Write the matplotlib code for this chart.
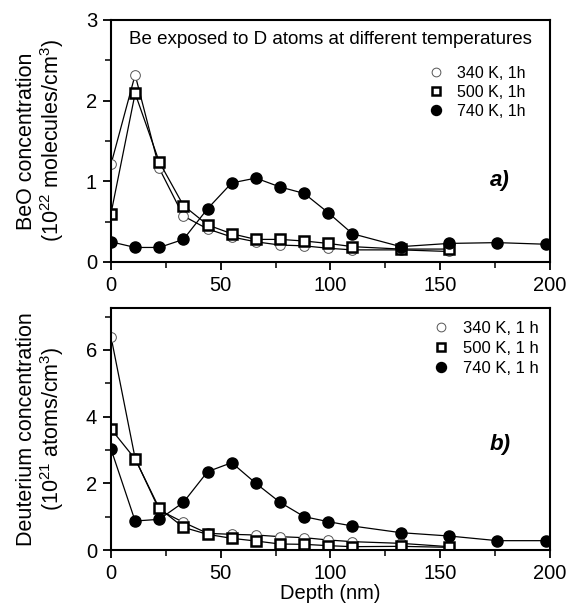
import matplotlib
matplotlib.use("Agg")
import matplotlib.pyplot as plt
from matplotlib.ticker import MultipleLocator

plt.rcParams["font.family"] = ["Liberation Sans", "DejaVu Sans"]
plt.rcParams["mathtext.fontset"] = "custom"
plt.rcParams["mathtext.rm"] = "Liberation Sans"
plt.rcParams["mathtext.it"] = "Liberation Sans:italic"
plt.rcParams["mathtext.bf"] = "Liberation Sans:bold"

# depth (nm)
depth = [0, 11, 22, 33, 44, 55, 66, 77, 88, 99, 110, 132, 154, 176, 198]
depth_short = depth[:13]

# a) BeO concentration (1e22 molecules/cm3)
beo_340 = [1.21, 2.32, 1.16, 0.57, 0.41, 0.31, 0.25, 0.21, 0.2, 0.17, 0.15, 0.15, 0.13]
beo_500 = [0.6, 2.09, 1.24, 0.70, 0.46, 0.35, 0.28, 0.28, 0.26, 0.23, 0.19, 0.16, 0.16]
beo_740 = [0.25, 0.18, 0.18, 0.28, 0.66, 0.98, 1.04, 0.93, 0.85, 0.61, 0.35, 0.19, 0.23, 0.24, 0.22]

# b) deuterium concentration (1e21 atoms/cm3)
d_340 = [6.4, 2.75, 1.2, 0.83, 0.5, 0.47, 0.45, 0.4, 0.37, 0.3, 0.25, 0.2, 0.1]
d_500 = [3.63, 2.73, 1.25, 0.68, 0.47, 0.35, 0.27, 0.18, 0.17, 0.13, 0.1, 0.11, 0.08]
d_740 = [3.03, 0.87, 0.92, 1.43, 2.35, 2.62, 2.0, 1.43, 1.0, 0.85, 0.72, 0.52, 0.42, 0.28, 0.28]

labels_a = ["340 K, 1h", "500 K, 1h", "740 K, 1h"]
labels_b = ["340 K, 1 h", "500 K, 1 h", "740 K, 1 h"]

fig = plt.figure(figsize=(5.68, 6.07), dpi=100)
ax1 = fig.add_axes([0.1954, 0.5684, 0.7729, 0.3987])
ax2 = fig.add_axes([0.1954, 0.0939, 0.7729, 0.3987])


def draw(ax, s340, s500, s740, labels, leg_pos, leg_size, leg_space):
    ax.plot(depth_short, s340, color="k", lw=0.9, marker="o", ms=7,
            mfc="white", mec="#555555", mew=0.7, label=labels[0])
    ax.plot(depth_short, s500, color="k", lw=0.9, marker="s", ms=6.5,
            mfc="white", mec="k", mew=1.8, label=labels[1])
    ax.plot(depth, s740, color="k", lw=0.9, marker="o", ms=8,
            mfc="k", mec="k", label=labels[2])
    ax.set_xlim(0, 200)
    ax.xaxis.set_major_locator(MultipleLocator(50))
    ax.xaxis.set_minor_locator(MultipleLocator(25))
    ax.tick_params(which="major", direction="out", length=6, width=1.3,
                   labelsize=14.5, pad=4)
    ax.tick_params(which="minor", direction="out", length=4, width=1.1)
    for sp in ax.spines.values():
        sp.set_linewidth(1.5)
    handles = [plt.Line2D([], [], ls="none", marker=h.get_marker(),
                          ms=h.get_markersize() * 0.9,
                          mfc=h.get_markerfacecolor(),
                          mec=h.get_markeredgecolor(),
                          mew=h.get_markeredgewidth())
               for h in ax.get_lines()]
    ax.legend(handles=handles, labels=labels, loc="upper left",
              bbox_to_anchor=leg_pos, frameon=False, fontsize=leg_size,
              handlelength=1.0, handletextpad=0.8, labelspacing=leg_space,
              borderpad=0, borderaxespad=0)


draw(ax1, beo_340, beo_500, beo_740, labels_a, (0.722, 0.81), 11.5, 0.25)
ax1.set_ylim(0, 3)
ax1.yaxis.set_major_locator(MultipleLocator(1))
ax1.yaxis.set_minor_locator(MultipleLocator(0.5))
ax1.set_ylabel("BeO concentration\n(10$^{22}$ molecules/cm$^{3}$)", fontsize=15.5,
               linespacing=1.05, labelpad=14)
ax1.text(0.5, 0.918, "Be exposed to D atoms at different temperatures",
         transform=ax1.transAxes, ha="center", va="center", fontsize=13.5)
ax1.text(0.886, 0.335, "a)", transform=ax1.transAxes, ha="center", va="center",
         fontsize=16, fontweight="bold", style="italic")

draw(ax2, d_340, d_500, d_740, labels_b, (0.733, 0.948), 12, 0.3)
ax2.set_ylim(0, 7.26)
ax2.yaxis.set_major_locator(MultipleLocator(2))
ax2.yaxis.set_minor_locator(MultipleLocator(1))
ax2.set_ylabel("Deuterium concentration\n(10$^{21}$ atoms/cm$^{3}$)", fontsize=15.5,
               linespacing=1.05, labelpad=14)
ax2.set_xlabel("Depth (nm)", fontsize=14.5, labelpad=1)
ax2.text(0.886, 0.434, "b)", transform=ax2.transAxes, ha="center", va="center",
         fontsize=16, fontweight="bold", style="italic")

fig.savefig("out.png", dpi=100)
